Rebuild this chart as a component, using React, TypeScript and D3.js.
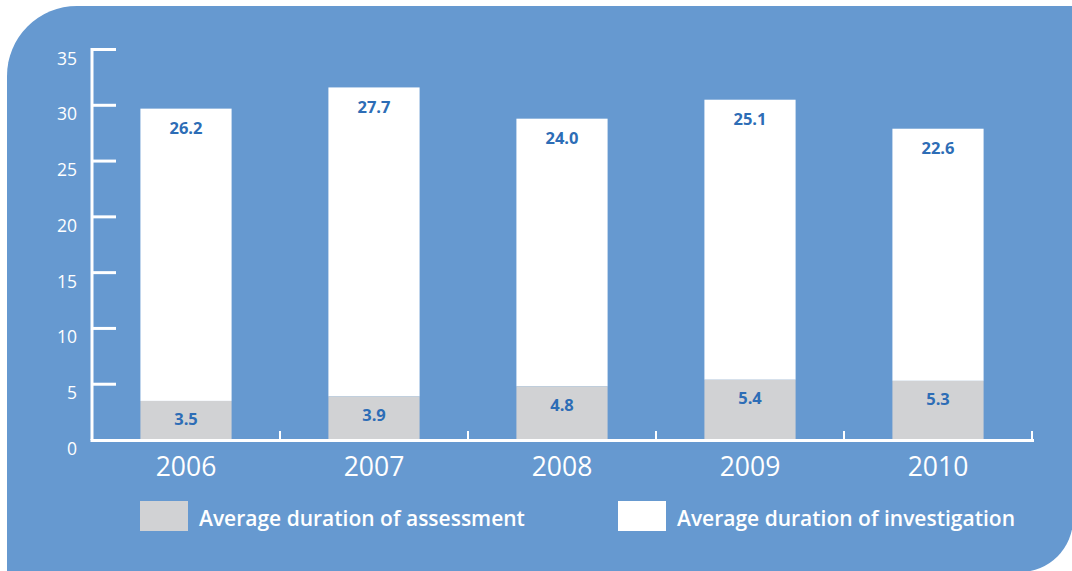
import React from "react";
import * as d3 from "d3";

const years = ["2006", "2007", "2008", "2009", "2010"];
const assessment = [3.5, 3.9, 4.8, 5.4, 5.3];
const investigation = [26.2, 27.7, 24.0, 25.1, 22.6];
const yTicks = [0, 5, 10, 15, 20, 25, 30, 35];
const legendLabels = ["Average duration of assessment", "Average duration of investigation"];

const W = 1072;
const H = 571;
const BG = "#6699d0";
const GREY = "#d1d2d4";
const LABEL = "#2d6db6";
const FONT = "'Open Sans', 'Noto Sans', sans-serif";

export default function App() {
  const x = d3.scaleBand<string>().domain(years).range([92, 1032]).paddingInner(0).paddingOuter(0);
  const y = d3.scaleLinear().domain([0, 35]).range([440, 49.5]);
  const bw = x.bandwidth() * 0.485;

  const L = 7, T = 6, R = 1073, B = 572, r1 = 70, r2 = 53;
  const panel = `M${L},${T + r1} A${r1},${r1} 0 0 1 ${L + r1},${T} L${R},${T} L${R},${B - r2} A${r2},${r2} 0 0 1 ${R - r2},${B} L${L},${B} Z`;

  const boundaries = years.map((yr) => (x(yr) as number) + x.bandwidth());

  return (
    <svg width={W} height={H} style={{ position: "absolute", left: 0, top: 0 }} fontFamily={FONT}>
      <rect x={0} y={0} width={W} height={H} fill="#ffffff" />
      <path d={panel} fill={BG} />

      {years.map((yr, i) => {
        const cx = (x(yr) as number) + x.bandwidth() / 2;
        const a = assessment[i];
        const v = investigation[i];
        const yA = y(a);
        const yT = y(a + v);
        return (
          <g key={yr}>
            <rect x={cx - bw / 2} y={yT} width={bw} height={yA - yT} fill="#ffffff" />
            <rect x={cx - bw / 2} y={yA} width={bw} height={y(0) - yA} fill={GREY} />
            <text x={cx} y={yT + 19} textAnchor="middle" dominantBaseline="central" fill={LABEL} fontSize={16.5} fontWeight={700}>
              {v.toFixed(1)}
            </text>
            <text x={cx} y={yA + 18} textAnchor="middle" dominantBaseline="central" fill={LABEL} fontSize={16.5} fontWeight={700}>
              {a.toFixed(1)}
            </text>
            <text x={cx} y={466} textAnchor="middle" dominantBaseline="central" fill="#ffffff" fontSize={26.5}>
              {yr}
            </text>
          </g>
        );
      })}

      <line x1={92} x2={92} y1={y(35) - 1.5} y2={y(0)} stroke="#ffffff" strokeWidth={3} />
      {yTicks.map((t) => (
        <g key={t}>
          {t > 0 && <line x1={92} x2={116} y1={y(t)} y2={y(t)} stroke="#ffffff" strokeWidth={3} />}
          <text x={77} y={y(t) + 8} textAnchor="end" dominantBaseline="central" fill="#ffffff" fontSize={17.5}>
            {t}
          </text>
        </g>
      ))}

      <line x1={90.5} x2={1034} y1={y(0) + 0.5} y2={y(0) + 0.5} stroke="#ffffff" strokeWidth={3} />
      {boundaries.map((bx, i) => (
        <line key={i} x1={bx} x2={bx} y1={y(0)} y2={y(0) - 9} stroke="#ffffff" strokeWidth={2} />
      ))}

      <rect x={140} y={501} width={48} height={30} fill={GREY} />
      <text x={199} y={518} dominantBaseline="central" fill="#ffffff" fontSize={21} fontWeight={600}>
        {legendLabels[0]}
      </text>
      <rect x={618} y={501} width={48} height={30} fill="#ffffff" />
      <text x={677} y={518} dominantBaseline="central" fill="#ffffff" fontSize={21} fontWeight={600}>
        {legendLabels[1]}
      </text>
    </svg>
  );
}
